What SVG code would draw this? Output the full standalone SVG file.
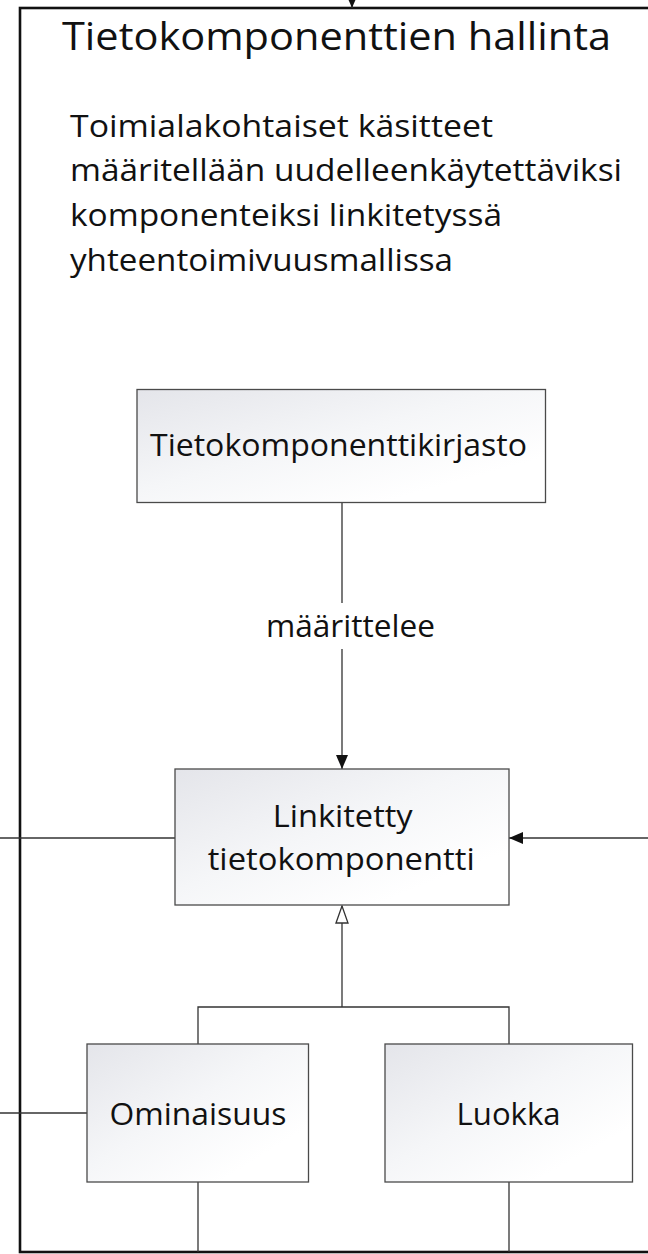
<svg xmlns="http://www.w3.org/2000/svg" width="648" height="1254" viewBox="0 0 648 1254">
  <style>
    .frame { fill: none; stroke: #111; stroke-width: 2.6; }
    .box { fill: url(#boxFill); stroke: #4a4a4a; stroke-width: 1.3; }
    .wire { fill: none; stroke: #333; stroke-width: 1.3; }
    .txt { font-family: "Open Sans", "Liberation Sans", sans-serif; fill: #111; }
    .title { font-size: 39px; }
    .body { font-size: 30.5px; }
    .label { font-size: 30.5px; }
  </style>
  <defs>
    <linearGradient id="boxFill" x1="0" y1="0" x2="1" y2="1">
      <stop offset="0" stop-color="#e4e5ea"/>
      <stop offset="0.45" stop-color="#f5f6f8"/>
      <stop offset="0.8" stop-color="#ffffff"/>
    </linearGradient>
    <marker id="arrowFilled" viewBox="0 0 14 12" refX="14" refY="6" markerWidth="14" markerHeight="12" markerUnits="userSpaceOnUse" orient="auto">
      <path d="M0,0 L14,6 L0,12 z" fill="#111"/>
    </marker>
    <marker id="arrowHollow" viewBox="-1 -1 19 14" refX="17" refY="6" markerWidth="19" markerHeight="14" markerUnits="userSpaceOnUse" orient="auto">
      <path d="M0,0 L17,6 L0,12 z" fill="#fff" stroke="#333" stroke-width="1.3"/>
    </marker>
  </defs>

  <!-- package frame -->
  <g id="frame">
    <rect class="frame" x="20" y="8" width="700" height="1244"/>
    <text class="txt title" x="62" y="50" textLength="549" lengthAdjust="spacingAndGlyphs">Tietokomponenttien hallinta</text>
    <text class="txt body" x="70" y="136.5" textLength="423" lengthAdjust="spacingAndGlyphs">Toimialakohtaiset käsitteet</text>
    <text class="txt body" x="70" y="181" textLength="552" lengthAdjust="spacingAndGlyphs">määritellään uudelleenkäytettäviksi</text>
    <text class="txt body" x="70" y="226" textLength="432" lengthAdjust="spacingAndGlyphs">komponenteiksi linkitetyssä</text>
    <text class="txt body" x="70" y="270.5" textLength="383" lengthAdjust="spacingAndGlyphs">yhteentoimivuusmallissa</text>
  </g>

  <!-- connectors -->
  <g id="connectors">
    <path class="wire" d="M352 -4 V8" marker-end="url(#arrowFilled)"/>
    <path class="wire" d="M342 503 V603 M342 649 V769" marker-end="url(#arrowFilled)"/>
    <path class="wire" d="M648 838 H509" marker-end="url(#arrowFilled)"/>
    <path class="wire" d="M0 838 H175"/>
    <path class="wire" d="M342 1007 V906" marker-end="url(#arrowHollow)"/>
    <path class="wire" d="M198 1044 V1007 H509 V1044"/>
    <path class="wire" d="M0 1113 H87"/>
    <path class="wire" d="M198 1182 V1252"/>
    <path class="wire" d="M509 1182 V1252"/>
    <text class="txt label" x="266" y="637" textLength="169" lengthAdjust="spacingAndGlyphs">määrittelee</text>
  </g>

  <g id="node-kirjasto">
    <rect class="box" x="137" y="389.5" width="408.5" height="113"/>
    <text class="txt label" x="150" y="456" textLength="377" lengthAdjust="spacingAndGlyphs">Tietokomponenttikirjasto</text>
  </g>

  <g id="node-linkitetty">
    <rect class="box" x="175" y="769" width="334" height="136"/>
    <text class="txt label" x="272.7" y="827" textLength="140" lengthAdjust="spacingAndGlyphs">Linkitetty</text>
    <text class="txt label" x="207.7" y="870" textLength="267" lengthAdjust="spacingAndGlyphs">tietokomponentti</text>
  </g>

  <g id="node-ominaisuus">
    <rect class="box" x="87" y="1044" width="221.5" height="138"/>
    <text class="txt label" x="109.5" y="1125" textLength="177" lengthAdjust="spacingAndGlyphs">Ominaisuus</text>
  </g>

  <g id="node-luokka">
    <rect class="box" x="385" y="1044" width="247.5" height="138"/>
    <text class="txt label" x="456.6" y="1125" textLength="104" lengthAdjust="spacingAndGlyphs">Luokka</text>
  </g>
</svg>
